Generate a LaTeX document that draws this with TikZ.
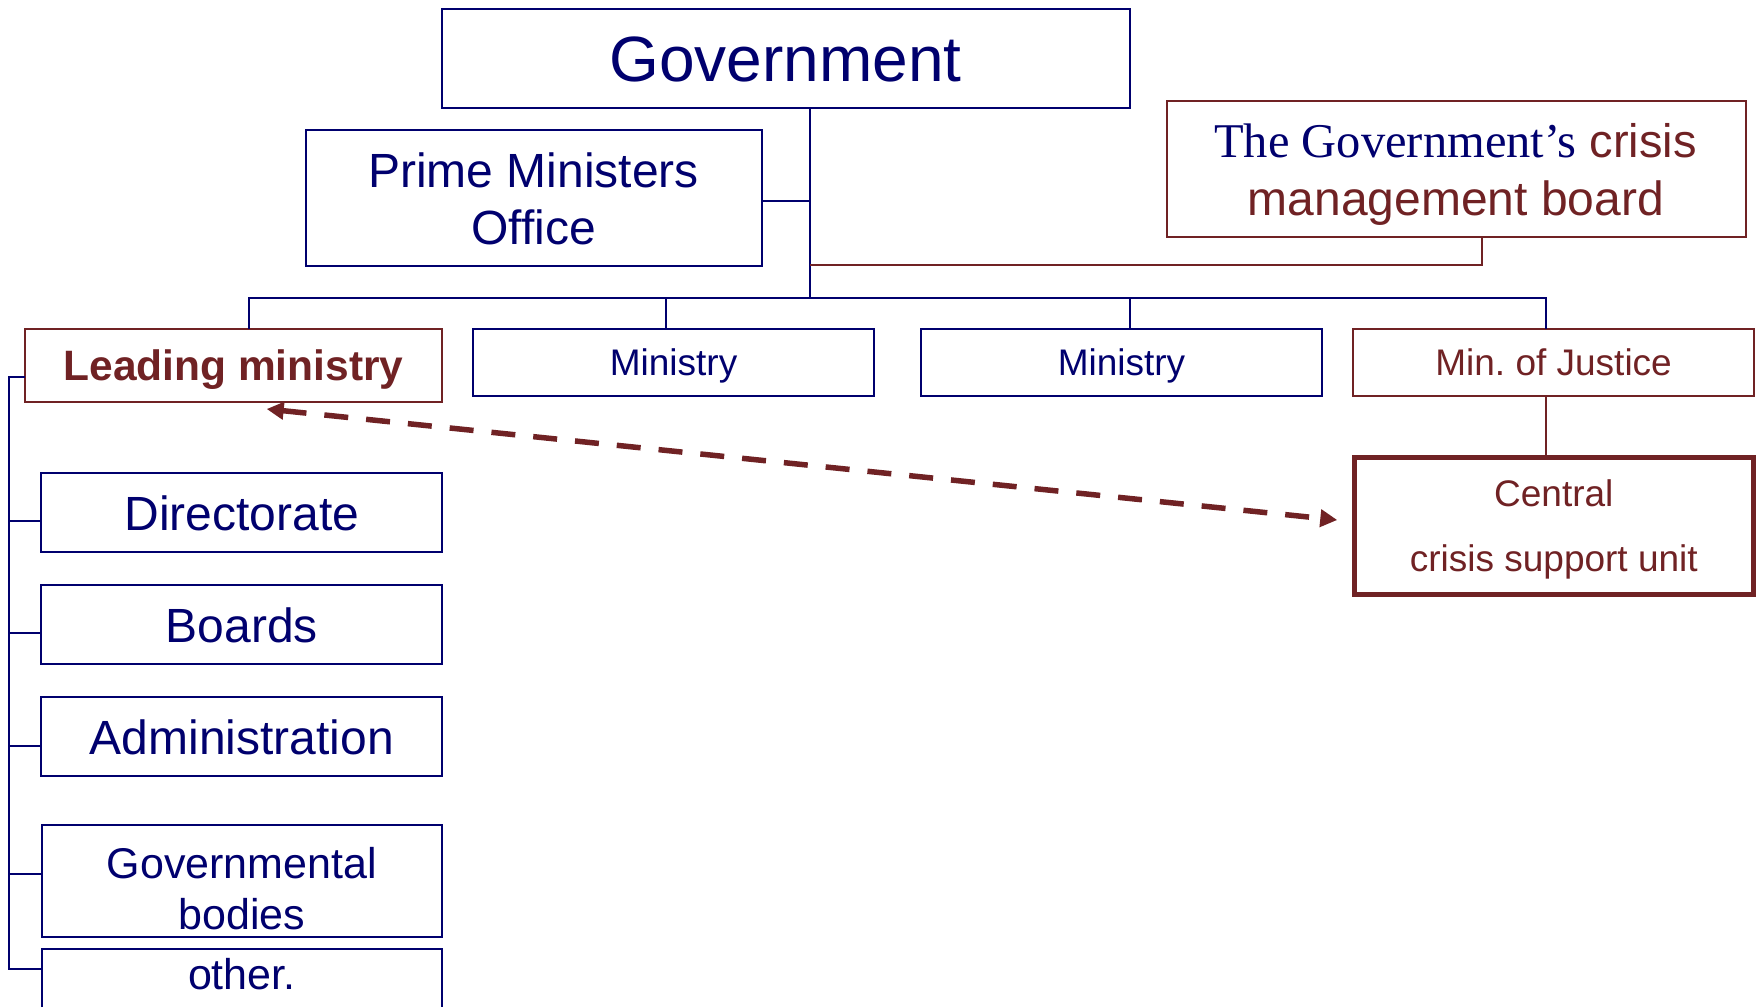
\documentclass[tikz,border=0pt]{standalone}
\usepackage{fontspec}
\setmainfont{Liberation Sans}
\newfontfamily\serifTNR{Liberation Serif}
\usetikzlibrary{arrows.meta}
\definecolor{myNavy}{RGB}{0,0,110}
\definecolor{myRed}{RGB}{112,34,36}
\begin{document}
\begin{tikzpicture}[x=1pt,y=-1pt,
  bx/.style={draw=myNavy, line width=2pt, inner sep=0pt, outer sep=0pt, text=myNavy},
  rbx/.style={bx, draw=myRed, text=myRed},
  txt/.style={inner sep=0pt, outer sep=0pt, text=myNavy},
  caph/.style={text height=#1, text depth=0pt},
  nline/.style={draw=myNavy, line width=2pt},
  rline/.style={draw=myRed, line width=2pt},
  dline/.style={draw=myRed, line width=5.5pt, dash pattern=on 24pt off 18pt,
    {Triangle[length=17pt,width=17pt]}-{Triangle[length=17pt,width=17pt]}}]
\fill[white] (0,0) rectangle (1761,1007);
\useasboundingbox (0,0) rectangle (1761,1007);

% top level
\node[bx, minimum width=688pt, minimum height=99pt, font=\fontsize{64}{77}\selectfont, caph=45.8pt] (gov) at (785.6,58.5) {Government};

\node[bx, minimum width=456pt, minimum height=136pt] (pmo) at (533.5,198.4) {};
\node[txt, anchor=base, font=\fontsize{48}{57}\selectfont] (pmo1) at (533.5,187) {Prime Ministers};
\node[txt, anchor=base, font=\fontsize{48}{57}\selectfont] (pmo2) at (533.5,244) {Office};

\node[rbx, minimum width=578.5pt, minimum height=136pt] (crisis) at (1456.3,168.7) {};
\node[txt, anchor=base, font=\fontsize{47}{55}\selectfont] (cr1) at (1455.5,157.3) {{\serifTNR\fontsize{48.5}{55}\selectfont The Government’s} \textcolor{myRed}{crisis}};
\node[txt, anchor=base, text=myRed, font=\fontsize{48}{55}\selectfont] (cr2) at (1455.8,215) {management board};

% ministries
\node[rbx, minimum width=417pt, minimum height=72.4pt, font=\bfseries\fontsize{42.5}{50}\selectfont, caph=30.4pt] (lead) at (233.5,365.5) {Leading ministry};
\node[bx, minimum width=400.4pt, minimum height=66.4pt, font=\fontsize{37}{44}\selectfont, caph=26.5pt] (min1) at (673.6,362.5) {Ministry};
\node[bx, minimum width=401pt, minimum height=66.4pt, font=\fontsize{37}{44}\selectfont, caph=26.5pt] (min2) at (1121.5,362.5) {Ministry};
\node[rbx, minimum width=400.7pt, minimum height=66.4pt, font=\fontsize{37}{44}\selectfont, caph=26.5pt] (just) at (1553.6,362.5) {Min.\ of Justice};

\node[rbx, line width=5pt, minimum width=399.3pt, minimum height=136.7pt] (central) at (1553.8,525.8) {};
\node[txt, anchor=base, text=myRed, font=\fontsize{37}{44}\selectfont] (ce1) at (1553.8,506) {Central};
\node[txt, anchor=base, text=myRed, font=\fontsize{37}{44}\selectfont] (ce2) at (1553.8,571.7) {crisis support unit};

% sub units
\node[bx, minimum width=401pt, minimum height=79pt, font=\fontsize{48}{56}\selectfont, caph=34.4pt] (dir) at (241.8,512.8) {Directorate};
\node[bx, minimum width=401pt, minimum height=79pt, font=\fontsize{48}{56}\selectfont, caph=34.4pt] (boards) at (241.8,624.8) {Boards};
\node[bx, minimum width=401pt, minimum height=79pt, font=\fontsize{48}{56}\selectfont, caph=34.4pt] (admin) at (241.8,736.8) {Administration};

\node[bx, minimum width=400.5pt, minimum height=112.3pt] (govb) at (241.8,881.2) {};
\node[txt, anchor=base, font=\fontsize{43}{50}\selectfont] (gb1) at (241.8,878.3) {Governmental};
\node[txt, anchor=base, font=\fontsize{43}{50}\selectfont] (gb2) at (241.8,929) {bodies};

\node[txt, minimum width=400.5pt, minimum height=57.7pt, font=\fontsize{43}{50}\selectfont, caph=22.3pt] (other) at (241.8,978.15) {other.};
\draw[nline] (other.south west) -- (other.north west) -- (other.north east) -- (other.south east);

% connectors
\coordinate (tj) at (809.7,297.5);
\draw[nline] (tj |- gov.south) -- (tj);
\coordinate (pj) at ([yshift=-2.6pt]pmo.east);
\draw[nline] (pj) -- (pj -| tj);

\coordinate (b1) at (249.3,297.5);
\coordinate (b2) at (666,297.5);
\coordinate (b3) at (1130,297.5);
\coordinate (b4) at (1546,297.5);
\draw[nline] (b1 |- lead.north) -- (b1) -- (b4) -- (b4 |- just.north);
\draw[nline] (b2) -- (b2 |- min1.north);
\draw[nline] (b3) -- (b3 |- min2.north);

\coordinate (rj) at (1482,264.5);
\draw[rline] (tj |- rj) -- (rj) -- (rj |- crisis.south);
\draw[rline] (b4 |- just.south) -- (b4 |- central.north);

\coordinate (lt) at (9.3,377.3);
\coordinate (lb) at (9.3,969.3);
\draw[nline] (lead.west |- lt) -- (lt) -- (lb) -- (lb -| other.west);
\foreach \n/\yy in {dir/521.3, boards/633.3, admin/745.7, govb/873.7}
  \draw[nline] (lt |- 0,\yy) -- (\n.west |- 0,\yy);

\draw[dline] ([xshift=33.2pt,yshift=-7.3pt]lead.south) -- ([xshift=-16.9pt,yshift=5.8pt]central.west);
\end{tikzpicture}
\end{document}
